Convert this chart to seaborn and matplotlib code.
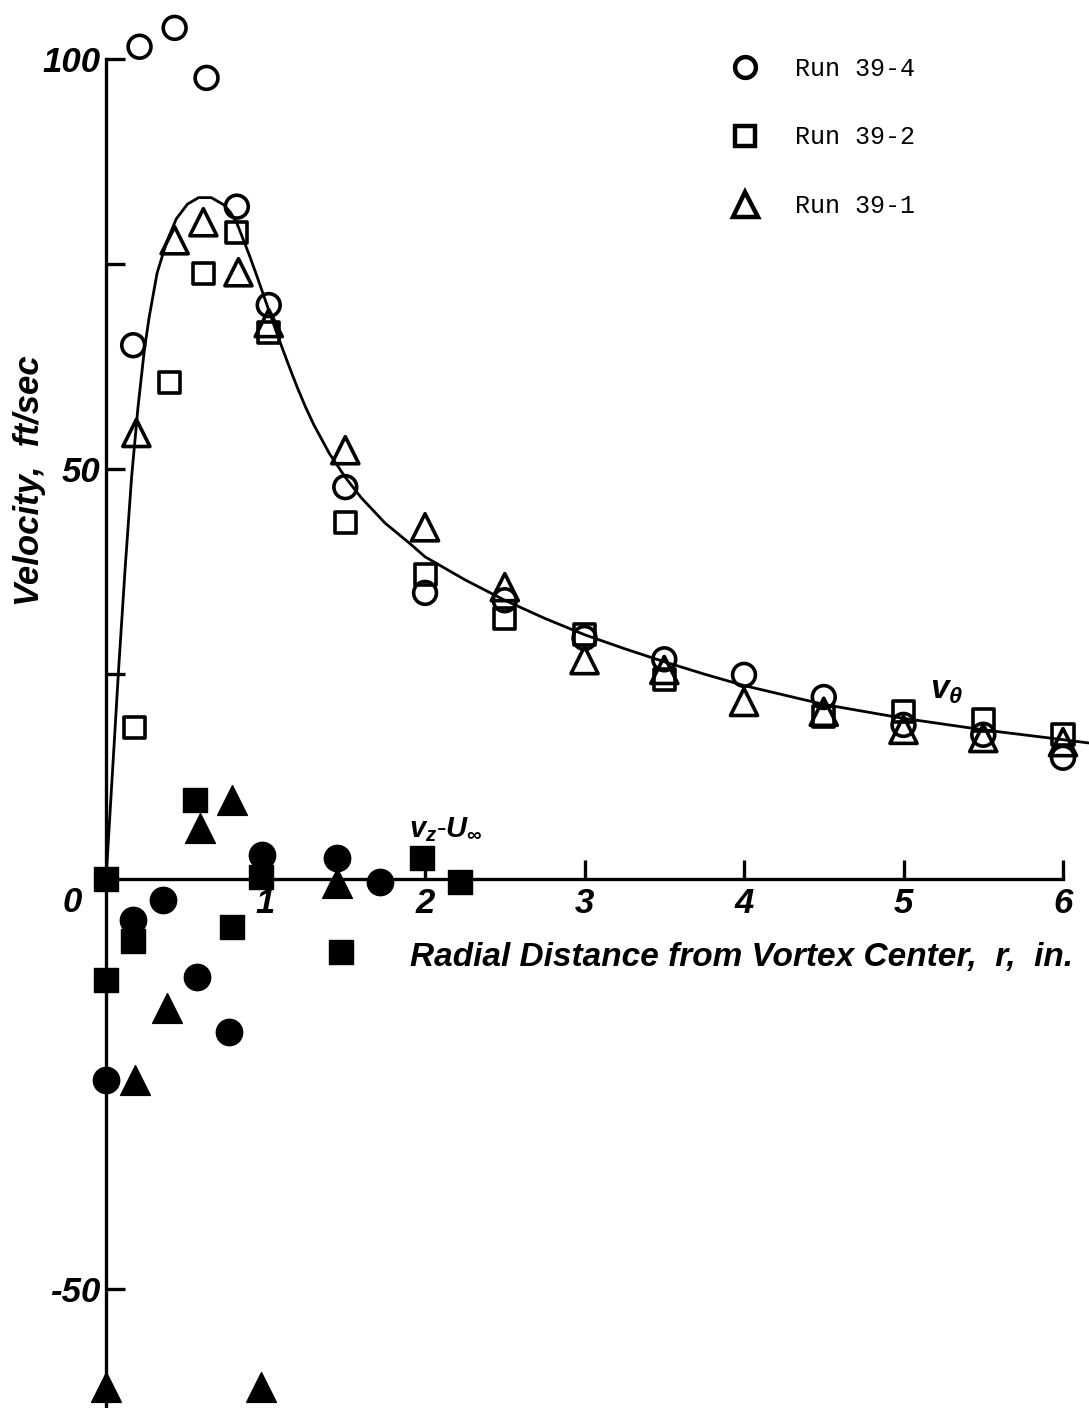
import numpy as np
import pandas as pd
import matplotlib
matplotlib.use("Agg")
import matplotlib.pyplot as plt
import seaborn as sns
from matplotlib.lines import Line2D

# Tangential velocity v_theta (open symbols), ft/sec vs r, in.
r_394 = [0.17, 0.21, 0.43, 0.63, 0.82, 1.02, 1.5, 2.0, 2.5, 3.0, 3.5, 4.0, 4.5, 5.0, 5.5, 6.0]
vt_394 = [65.1, 101.5, 103.8, 97.7, 82.0, 70.0, 47.8, 34.9, 34.0, 29.4, 26.8, 24.9, 22.2, 18.8, 17.6, 14.8]

r_392 = [0.18, 0.40, 0.61, 0.82, 1.02, 1.5, 2.0, 2.5, 3.0, 3.5, 4.5, 5.0, 5.5, 6.0]
vt_392 = [18.5, 60.5, 73.9, 78.8, 66.7, 43.5, 37.1, 31.8, 29.8, 24.3, 19.8, 20.4, 19.4, 17.6]

r_391 = [0.19, 0.43, 0.61, 0.83, 1.02, 1.5, 2.0, 2.5, 3.0, 3.5, 4.0, 4.5, 5.0, 5.5, 6.0]
vt_391 = [54.4, 77.9, 80.1, 74.0, 67.8, 52.3, 42.9, 35.6, 26.7, 25.5, 21.6, 20.4, 18.2, 17.2, 16.7]

# Axial velocity defect v_z - U_inf (filled symbols)
rz_394 = [0.0, 0.17, 0.36, 0.57, 0.77, 0.98, 1.45, 1.72]
vz_394 = [-24.5, -5.0, -2.6, -12.0, -18.7, 2.9, 2.6, -0.3]

rz_392 = [0.0, 0.0, 0.17, 0.56, 0.79, 0.97, 1.47, 1.98, 2.22]
vz_392 = [0.0, -12.3, -7.5, 9.6, -5.9, 0.2, -8.9, 2.6, -0.3]

rz_391 = [0.0, 0.18, 0.38, 0.59, 0.79, 0.97, 1.45]
vz_391 = [-62.0, -24.5, -15.7, 6.2, 9.6, -62.0, -0.5]

# Faired v_theta curve
fit_r = [0.0, 0.04, 0.08, 0.12, 0.16, 0.20, 0.24, 0.27, 0.32, 0.38, 0.44, 0.51, 0.58,
         0.66, 0.74, 0.78, 0.82, 0.85, 0.90, 0.95, 1.00, 1.05, 1.10, 1.15, 1.20, 1.25,
         1.30, 1.40, 1.50, 1.60, 1.75, 1.90, 2.00, 2.25, 2.50, 2.75, 3.00, 3.25, 3.50,
         3.75, 4.00, 4.50, 5.00, 5.50, 6.00, 6.16]
fit_v = [0.0, 13.0, 26.0, 38.0, 49.0, 57.5, 64.5, 68.5, 73.9, 77.7, 80.5, 82.3, 83.1,
         83.1, 82.2, 81.3, 80.0, 78.5, 76.0, 73.3, 70.5, 67.7, 65.0, 62.4, 59.9, 57.6,
         55.5, 51.9, 49.0, 46.5, 43.4, 41.0, 39.3, 36.5, 34.0, 31.8, 29.8, 28.1, 26.5,
         25.0, 23.6, 21.3, 19.6, 18.2, 17.0, 16.6]

run_labels = ["Run 39-4", "Run 39-2", "Run 39-1"]
x_ticks = [1, 2, 3, 4, 5, 6]
y_ticks = [-50, 50, 100]
y_minor = [25, 75]

sns.set_style("white")
plt.rcParams["font.family"] = ["Liberation Sans", "DejaVu Sans"]
plt.rcParams["mathtext.fontset"] = "custom"
plt.rcParams["mathtext.it"] = "Liberation Sans:italic:bold"
plt.rcParams["mathtext.rm"] = "Liberation Sans:bold"
plt.rcParams["text.color"] = "black"
plt.rcParams["xtick.color"] = "black"
plt.rcParams["ytick.color"] = "black"

fig = plt.figure(figsize=(10.89, 14.08), dpi=100)
ax = fig.add_axes([0, 0, 1, 1])
ax.set_xlim(-0.665, 6.163)
ax.set_ylim(-64.5, 107.2)

ink = "black"
ew = 2.6

# faired curve
sns.lineplot(x=fit_r, y=fit_v, sort=False, estimator=None, color=ink, lw=2.0, ax=ax)

# open symbols
sns.scatterplot(x=r_394, y=vt_394, marker="o", s=270, facecolor="none", edgecolor=ink,
                linewidth=ew, ax=ax, zorder=3)
sns.scatterplot(x=r_392, y=vt_392, marker="s", s=230, facecolor="none", edgecolor=ink,
                linewidth=ew, ax=ax, zorder=3)
sns.scatterplot(x=r_391, y=vt_391, marker="^", s=380, facecolor="none", edgecolor=ink,
                linewidth=ew, ax=ax, zorder=3)

# filled symbols
sns.scatterplot(x=rz_394, y=vz_394, marker="o", s=360, color=ink, edgecolor=ink,
                linewidth=1, ax=ax, zorder=3)
sns.scatterplot(x=rz_392, y=vz_392, marker="s", s=320, color=ink, edgecolor=ink,
                linewidth=1, ax=ax, zorder=3)
sns.scatterplot(x=rz_391, y=vz_391, marker="^", s=460, color=ink, edgecolor=ink,
                linewidth=1, ax=ax, zorder=3)

# axes drawn through the origin
for side in ["top", "right"]:
    ax.spines[side].set_visible(False)
ax.spines["left"].set_position(("data", 0))
ax.spines["bottom"].set_position(("data", 0))
ax.spines["left"].set_bounds(-64.5, 100)
ax.spines["bottom"].set_bounds(0, 6)
for side in ["left", "bottom"]:
    ax.spines[side].set_linewidth(2.4)
    ax.spines[side].set_color(ink)

tick_font = dict(family="Liberation Sans", weight="bold", style="italic", size=25,
                 color=ink)
ax.set_xticks(x_ticks)
ax.set_xticklabels([str(t) for t in x_ticks], fontdict=tick_font)
ax.set_yticks(y_ticks)
ax.set_yticklabels([str(t) for t in y_ticks], fontdict=tick_font)
ax.set_yticks(y_minor, minor=True)
ax.tick_params(axis="both", which="both", direction="in", length=14, width=2.4,
               color=ink, pad=6, bottom=True, left=True, top=False, right=False)
ax.tick_params(axis="y", which="major", pad=4)
ax.text(-0.21, -2.8, "0", ha="center", va="center", **tick_font)

label_font = dict(family="Liberation Sans", weight="bold", style="italic", color=ink)
ax.text(0.681, 0.320, "Radial Distance from Vortex Center,  r,  in.",
        transform=ax.transAxes, ha="center", va="center", fontsize=24, **label_font)
ax.text(0.027, 0.659, "Velocity,  ft/sec", transform=ax.transAxes, rotation=90,
        ha="center", va="center", fontsize=25, **label_font)

ax.text(5.27, 23.0, r"$v_\theta$", ha="center", va="center", fontsize=24)
ax.text(2.13, 6.0, r"$v_z$-$U_\infty$", ha="center", va="center", fontsize=21)

handles = [
    Line2D([], [], marker="o", ls="none", mfc="none", mec=ink, mew=3.2, ms=15),
    Line2D([], [], marker="s", ls="none", mfc="none", mec=ink, mew=3.2, ms=14),
    Line2D([], [], marker="^", ls="none", mfc="none", mec=ink, mew=3.2, ms=18),
]
ax.legend(handles, run_labels, loc="upper left", bbox_to_anchor=(0.6726, 0.9595),
          frameon=False, prop=dict(family="Liberation Mono", size=18),
          handlelength=1.0, handletextpad=1.5, labelspacing=1.77,
          borderpad=0, borderaxespad=0)

ax.grid(False)
fig.savefig("out.png", dpi=100, facecolor="white")
